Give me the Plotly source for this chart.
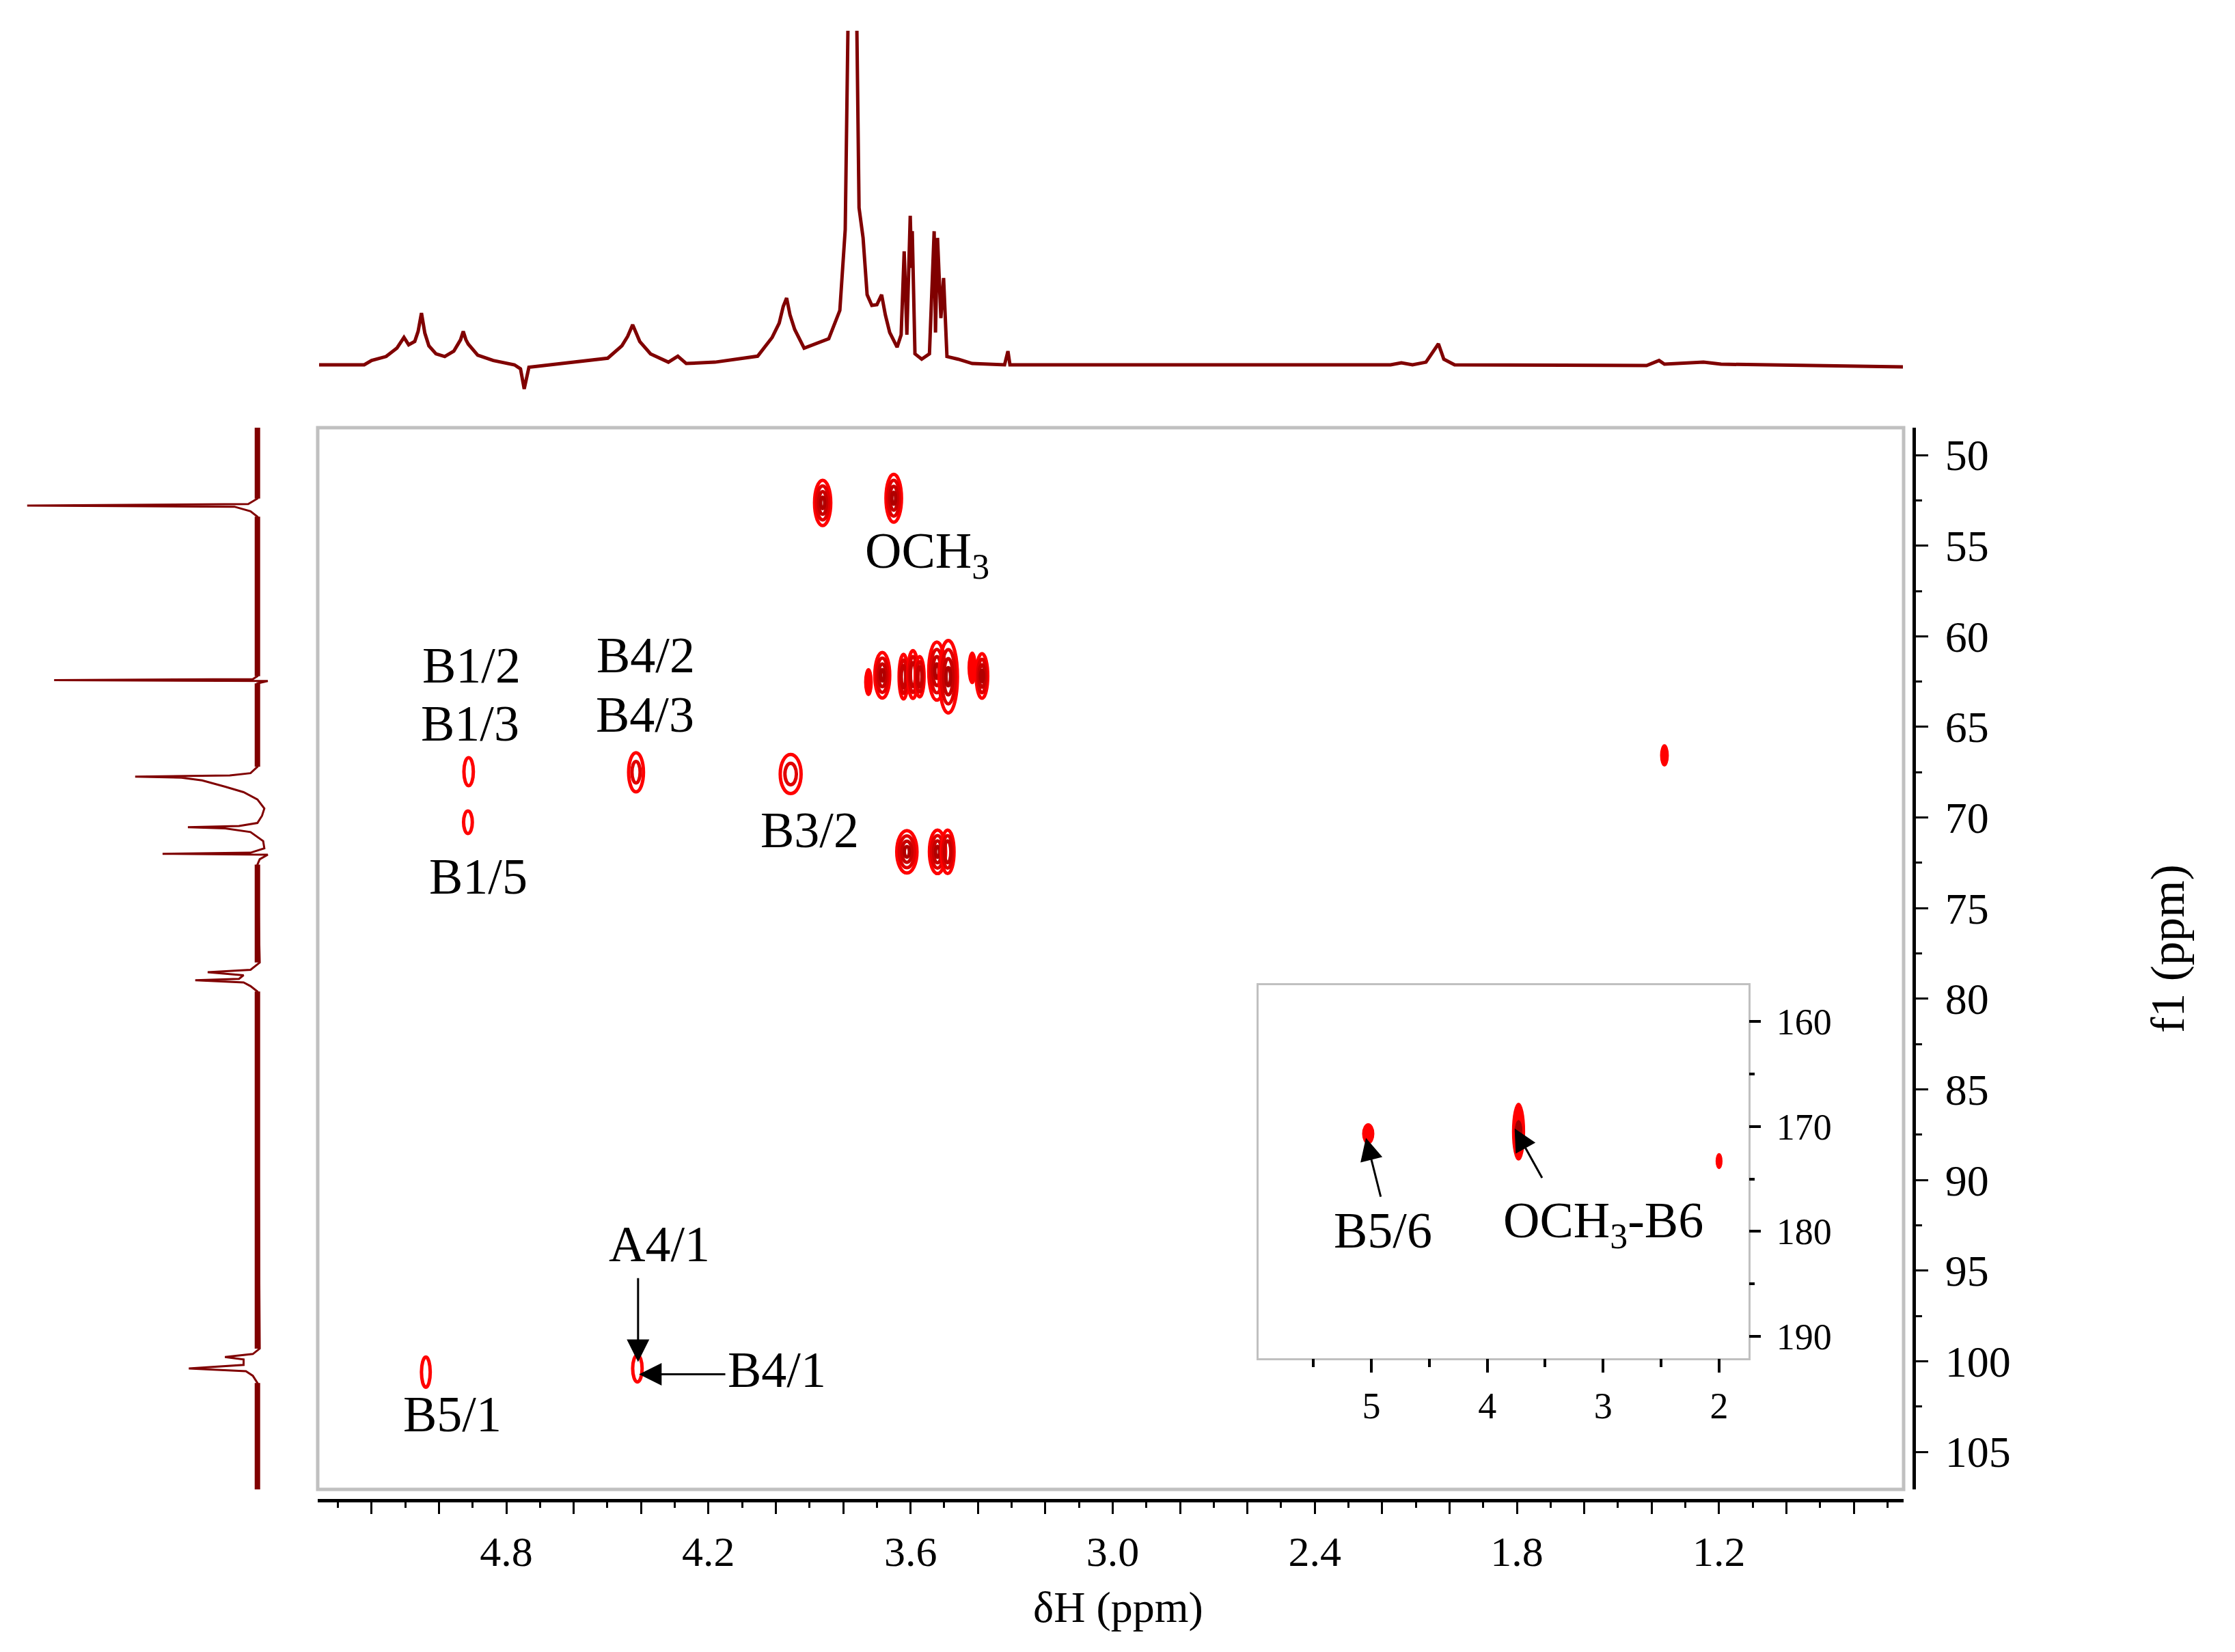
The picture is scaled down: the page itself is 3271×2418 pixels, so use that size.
import plotly.graph_objects as go

# ---------------- data ----------------
# 1H projection (top): (ppm, relative intensity)
top_points = [
    (5.356, 0.0), (5.222, 0.0), (5.200, 0.013), (5.157, 0.025), (5.125, 0.05),
    (5.104, 0.082), (5.090, 0.06), (5.072, 0.07), (5.062, 0.10), (5.052, 0.155),
    (5.042, 0.095), (5.030, 0.057), (5.009, 0.033), (4.983, 0.025), (4.956, 0.041),
    (4.936, 0.075), (4.928, 0.100), (4.920, 0.075), (4.913, 0.062), (4.885, 0.029),
    (4.839, 0.013), (4.776, 0.0), (4.758, -0.012), (4.747, -0.072), (4.733, -0.007),
    (4.605, 0.008), (4.499, 0.02), (4.457, 0.057), (4.440, 0.085), (4.425, 0.12),
    (4.412, 0.09), (4.404, 0.07), (4.372, 0.033), (4.319, 0.008), (4.291, 0.026),
    (4.266, 0.004), (4.181, 0.008), (4.054, 0.026), (4.011, 0.082), (3.990, 0.125),
    (3.978, 0.175), (3.968, 0.200), (3.958, 0.15), (3.944, 0.106), (3.916, 0.05),
    (3.873, 0.068), (3.843, 0.078), (3.810, 0.163), (3.794, 0.405), (3.782, 1.3),
    (3.772, 1.15), (3.763, 1.3), (3.753, 0.47), (3.741, 0.38), (3.729, 0.21),
    (3.715, 0.178), (3.700, 0.18), (3.686, 0.21), (3.675, 0.15), (3.662, 0.097),
    (3.640, 0.053), (3.628, 0.09), (3.619, 0.34), (3.611, 0.09), (3.601, 0.446),
    (3.597, 0.29), (3.595, 0.40), (3.587, 0.033), (3.567, 0.017), (3.544, 0.033),
    (3.530, 0.40), (3.526, 0.097), (3.520, 0.38), (3.510, 0.14), (3.502, 0.26),
    (3.492, 0.025), (3.459, 0.017), (3.417, 0.004), (3.321, 0.0), (3.311, 0.041),
    (3.305, 0.0), (2.976, 0.0), (2.175, 0.0), (2.143, 0.006), (2.110, 0.0),
    (2.070, 0.008), (2.048, 0.041), (2.033, 0.063), (2.017, 0.017), (1.985, 0.0),
    (1.415, -0.002), (1.378, 0.013), (1.362, 0.002), (1.289, 0.005), (1.246, 0.008),
    (1.194, 0.002), (0.865, -0.004), (0.654, -0.006),
]

# 13C projection (left): (ppm, relative intensity)
left_points = [
    (48.49, 0.0), (52.4, 0.0), (52.7, 0.04), (52.79, 1.0), (52.85, 0.1),
    (53.1, 0.03), (53.4, 0.0), (62.2, 0.0), (62.36, 0.02), (62.42, 0.883),
    (62.47, -0.045), (62.6, 0.0), (67.2, 0.0), (67.55, 0.03), (67.68, 0.12),
    (67.74, 0.531), (67.8, 0.33), (67.95, 0.24), (68.3, 0.14), (68.6, 0.06),
    (69.0, 0.0), (69.5, -0.03), (69.9, -0.02), (70.3, 0.0), (70.47, 0.08),
    (70.53, 0.302), (70.6, 0.14), (70.8, 0.03), (71.3, -0.025), (71.7, -0.03),
    (71.94, 0.03), (72.0, 0.412), (72.05, -0.045), (72.3, -0.01), (72.6, 0.0),
    (78.0, -0.01), (78.4, 0.03), (78.53, 0.216), (78.7, 0.06), (78.9, 0.08),
    (78.98, 0.27), (79.1, 0.06), (79.3, 0.03), (79.6, 0.0), (99.3, -0.01),
    (99.6, 0.02), (99.77, 0.141), (99.9, 0.06), (100.2, 0.06), (100.4, 0.298),
    (100.55, 0.05), (100.8, 0.02), (101.2, 0.0), (107.07, 0.0),
]
# ppm stretches of the 13C trace where the baseline is noisy
left_noise_ranges = [(48.49, 52.4), (53.4, 62.2), (62.6, 67.2), (72.6, 78.0),
                     (79.6, 99.3), (101.2, 107.07)]

# 2D cross peaks, main panel: 1H shift, 13C shift, half-widths
peak_h = [3.861, 3.650, 3.725, 3.684, 3.621, 3.593, 3.573, 3.522, 3.488, 3.417,
          3.388, 3.611, 3.520, 3.490, 4.912, 4.914, 4.415, 3.956, 5.039, 4.411, 1.362]
peak_c = [52.64, 52.38, 62.53, 62.15, 62.23, 62.11, 62.23, 61.92, 62.23, 61.74,
          62.19, 71.89, 71.89, 71.89, 67.47, 70.26, 67.50, 67.60, 100.6, 100.4, 66.57]
peak_dh = [0.024, 0.023, 0.011, 0.022, 0.013, 0.015, 0.013, 0.024, 0.027, 0.012,
           0.017, 0.030, 0.024, 0.019, 0.014, 0.013, 0.022, 0.031, 0.013, 0.014, 0.011]
peak_dc = [1.25, 1.32, 0.74, 1.26, 1.23, 1.32, 1.11, 1.6, 2.0, 0.87,
           1.23, 1.17, 1.2, 1.2, 0.77, 0.62, 1.08, 1.08, 0.83, 0.74, 0.58]

# inset cross peaks (carbonyl region)
inset_h = [5.027, 3.73, 2.0]
inset_c = [170.7, 170.5, 173.3]
inset_dh = [0.047, 0.051, 0.024]
inset_dc = [0.94, 2.7, 0.7]

# labels (text, 1H, 13C)
main_labels = [("B1/2", 4.903, 61.62), ("B1/3", 4.908, 64.83), ("B4/2", 4.386, 61.06),
               ("B4/3", 4.388, 64.34), ("B1/5", 4.883, 73.25), ("B3/2", 3.899, 70.68),
               ("OCH<sub>3</sub>", 3.550, 55.47), ("A4/1", 4.346, 93.55),
               ("B4/1", 3.997, 100.49), ("B5/1", 4.960, 102.94)]
# arrows (head 1H, head 13C, tail 1H, tail 13C)
main_arrows = [(4.409, 100.04, 4.409, 95.36), (4.406, 100.72, 4.147, 100.72)]
inset_labels = [("B5/6", 4.90, 179.9), ("OCH<sub>3</sub>-B6", 3.0, 179.3)]
inset_arrows = [(5.047, 171.1, 4.917, 176.8), (3.764, 170.2, 3.522, 175.0)]

# axis ticks
x_label_vals = [4.8, 4.2, 3.6, 3.0, 2.4, 1.8, 1.2]
x_tick_labels = ["4.8", "4.2", "3.6", "3.0", "2.4", "1.8", "1.2"]
y_tick_vals = [50, 55, 60, 65, 70, 75, 80, 85, 90, 95, 100, 105]
inset_x_vals = [5, 4, 3, 2]
inset_y_vals = [160, 170, 180, 190]

# ---------------- figure ----------------
W, H = 3271, 2418
OFF = 8                      # default page margin around the plot div
FW, FH = W - 2 * OFF, H - 2 * OFF
SERIF = "Liberation Serif, Times New Roman, serif"
DARK = "#800000"


def px_x(p):
    return (p - OFF) / FW


def px_y(p):
    return 1 - (p - OFF) / FH


main_xdom = [px_x(465), px_x(2786)]
main_ydom = [px_y(2180), px_y(626)]
x_range = [5.36, 0.652]
y_range = [107.07, 48.49]

fig = go.Figure()

# top 1H projection
fig.add_trace(go.Scatter(x=[p[0] for p in top_points], y=[p[1] for p in top_points],
                         mode="lines", line=dict(color=DARK, width=5),
                         xaxis="x3", yaxis="y3", hoverinfo="skip"))

# left 13C projection (noise band + trace)
nx, ny = [], []
for a, b in left_noise_ranges:
    nx += [0, 0, None]
    ny += [a, b, None]
fig.add_trace(go.Scatter(x=nx, y=ny, mode="lines",
                         line=dict(color=DARK, width=8),
                         xaxis="x4", yaxis="y4", hoverinfo="skip"))
fig.add_trace(go.Scatter(x=[p[1] for p in left_points], y=[p[0] for p in left_points],
                         mode="lines", line=dict(color=DARK, width=3),
                         xaxis="x4", yaxis="y4", hoverinfo="skip"))

# invisible anchors so main and inset subplots are drawn
fig.add_trace(go.Scatter(x=peak_h, y=peak_c, mode="markers",
                         marker=dict(size=1, color="rgba(0,0,0,0)"),
                         xaxis="x", yaxis="y", hoverinfo="skip"))
fig.add_trace(go.Scatter(x=inset_h, y=inset_c, mode="markers",
                         marker=dict(size=1, color="rgba(0,0,0,0)"),
                         xaxis="x2", yaxis="y2", hoverinfo="skip"))

shapes = []
# frames
shapes.append(dict(type="rect", xref="paper", yref="paper",
                   x0=px_x(465), x1=px_x(2786), y0=px_y(2180), y1=px_y(626),
                   line=dict(color="#c0c0c0", width=5), layer="below"))
shapes.append(dict(type="rect", xref="paper", yref="paper",
                   x0=px_x(1842), x1=px_x(2559), y0=px_y(1988), y1=px_y(1442),
                   line=dict(color="#c0c0c0", width=6), fillcolor="white", layer="below"))

# contour rings for main peaks
levels = [4, 4, 0, 4, 3, 3, 3, 4, 4, 0, 4, 4, 4, 3, 1, 1, 2, 2, 1, 1, 0]
ring_cols = ["#ff0000", "#e00000", "#c80000", "#b00000"]
ring_fr = [1.0, 0.75, 0.5, 0.25]
for h, c, dh, dc, lv in zip(peak_h, peak_c, peak_dh, peak_dc, levels):
    if lv == 0:
        shapes.append(dict(type="circle", xref="x", yref="y",
                           x0=h - dh, x1=h + dh, y0=c - dc, y1=c + dc,
                           line=dict(color="#ff0000", width=2), fillcolor="#ff0000"))
        continue
    for k in range(lv):
        f = ring_fr[k] if lv > 2 else [1.0, 0.55][k]
        shapes.append(dict(type="circle", xref="x", yref="y",
                           x0=h - dh * f, x1=h + dh * f, y0=c - dc * f, y1=c + dc * f,
                           line=dict(color=ring_cols[k], width=5)))

# inset peaks (filled)
for i, (h, c, dh, dc) in enumerate(zip(inset_h, inset_c, inset_dh, inset_dc)):
    shapes.append(dict(type="circle", xref="x2", yref="y2",
                       x0=h - dh, x1=h + dh, y0=c - dc, y1=c + dc,
                       line=dict(color="#ff0000", width=2), fillcolor="#ff0000"))
    if i == 1:
        shapes.append(dict(type="circle", xref="x2", yref="y2",
                           x0=h - dh * 0.6, x1=h + dh * 0.6, y0=c - dc * 0.4, y1=c + dc * 0.4,
                           line=dict(color="#a00000", width=1), fillcolor="#a00000"))

annotations = []
LF = dict(family=SERIF, size=74, color="black")
for t, h, c in main_labels:
    annotations.append(dict(text=t, x=h, y=c, xref="x", yref="y", showarrow=False,
                            font=LF, xanchor="center", yanchor="middle"))
for hx, hy, tx, ty in main_arrows:
    annotations.append(dict(text="", x=hx, y=hy, ax=tx, ay=ty, xref="x", yref="y",
                            axref="x", ayref="y", showarrow=True, arrowhead=2,
                            arrowsize=2.2, arrowwidth=3, arrowcolor="black", standoff=0))
for t, h, c in inset_labels:
    annotations.append(dict(text=t, x=h, y=c, xref="x2", yref="y2", showarrow=False,
                            font=LF, xanchor="center", yanchor="middle"))
for hx, hy, tx, ty in inset_arrows:
    annotations.append(dict(text="", x=hx, y=hy, ax=tx, ay=ty, xref="x2", yref="y2",
                            axref="x2", ayref="y2", showarrow=True, arrowhead=2,
                            arrowsize=2.2, arrowwidth=3, arrowcolor="black", standoff=0))
annotations.append(dict(text="δH (ppm)", x=px_x(1636), y=px_y(2352), xref="paper",
                        yref="paper", showarrow=False, xanchor="center", yanchor="middle",
                        font=dict(family=SERIF, size=64, color="black")))
annotations.append(dict(text="f1 (ppm)", x=px_x(3172), y=px_y(1389), xref="paper",
                        yref="paper", showarrow=False, xanchor="center", yanchor="middle",
                        textangle=-90, font=dict(family=SERIF, size=70, color="black")))

major_x = [round(5.2 - 0.2 * i, 1) for i in range(23)]
major_x_text = [x_tick_labels[x_label_vals.index(v)] if v in x_label_vals else "" for v in major_x]

fig.update_layout(
    width=FW, height=FH, margin=dict(l=0, r=0, t=0, b=0),
    paper_bgcolor="white", plot_bgcolor="white", showlegend=False,
    shapes=shapes, annotations=annotations,
    xaxis=dict(domain=main_xdom, range=x_range, anchor="free", position=px_y(2196),
               showline=True, linewidth=5, linecolor="black", showgrid=False, zeroline=False,
               ticks="outside", ticklen=17, tickwidth=3, tickcolor="black",
               tickmode="array", tickvals=major_x, ticktext=major_x_text,
               minor=dict(tickmode="linear", tick0=0, dtick=0.1, ticks="outside",
                          ticklen=8, tickwidth=3, tickcolor="black", showgrid=False),
               tickfont=dict(family=SERIF, size=62, color="black"), ticklabelstandoff=2),
    yaxis=dict(domain=main_ydom, range=y_range, anchor="free", position=px_x(2801),
               side="right", showline=True, linewidth=5, linecolor="black",
               showgrid=False, zeroline=False, ticks="outside", ticklen=18, tickwidth=3,
               tickcolor="black", tickmode="array", tickvals=y_tick_vals,
               ticktext=[str(v) for v in y_tick_vals],
               minor=dict(tickmode="linear", tick0=0, dtick=2.5, ticks="outside",
                          ticklen=9, tickwidth=3, tickcolor="black", showgrid=False),
               tickfont=dict(family=SERIF, size=64, color="black"), ticklabelstandoff=12),
    xaxis2=dict(domain=[px_x(1842), px_x(2559)], range=[5.973, 1.746], anchor="y2",
                showline=False, showgrid=False, zeroline=False, ticks="outside",
                ticklen=20, tickwidth=4, tickcolor="black", tickmode="array",
                tickvals=inset_x_vals, ticktext=[str(v) for v in inset_x_vals],
                minor=dict(tickmode="linear", tick0=0, dtick=0.5, ticks="outside",
                           ticklen=12, tickwidth=4, tickcolor="black", showgrid=False),
                tickfont=dict(family=SERIF, size=54, color="black"), ticklabelstandoff=2),
    yaxis2=dict(domain=[px_y(1988), px_y(1442)], range=[192.08, 156.55], anchor="x2",
                side="right", showline=False, showgrid=False, zeroline=False,
                ticks="outside", ticklen=17, tickwidth=4, tickcolor="black",
                tickmode="array", tickvals=inset_y_vals,
                ticktext=[str(v) for v in inset_y_vals],
                minor=dict(tickmode="linear", tick0=0, dtick=5, ticks="outside",
                           ticklen=8, tickwidth=4, tickcolor="black", showgrid=False),
                tickfont=dict(family=SERIF, size=54, color="black"), ticklabelstandoff=12),
    xaxis3=dict(domain=main_xdom, range=x_range, anchor="y3", visible=False),
    yaxis3=dict(domain=[px_y(580), px_y(45)], range=[-0.094, 1.0], anchor="x3", visible=False),
    xaxis4=dict(domain=[px_x(30), px_x(400)], range=[1.029, -0.069], anchor="y4", visible=False),
    yaxis4=dict(domain=main_ydom, range=y_range, anchor="x4", visible=False),
)

fig.write_html("out.html")
